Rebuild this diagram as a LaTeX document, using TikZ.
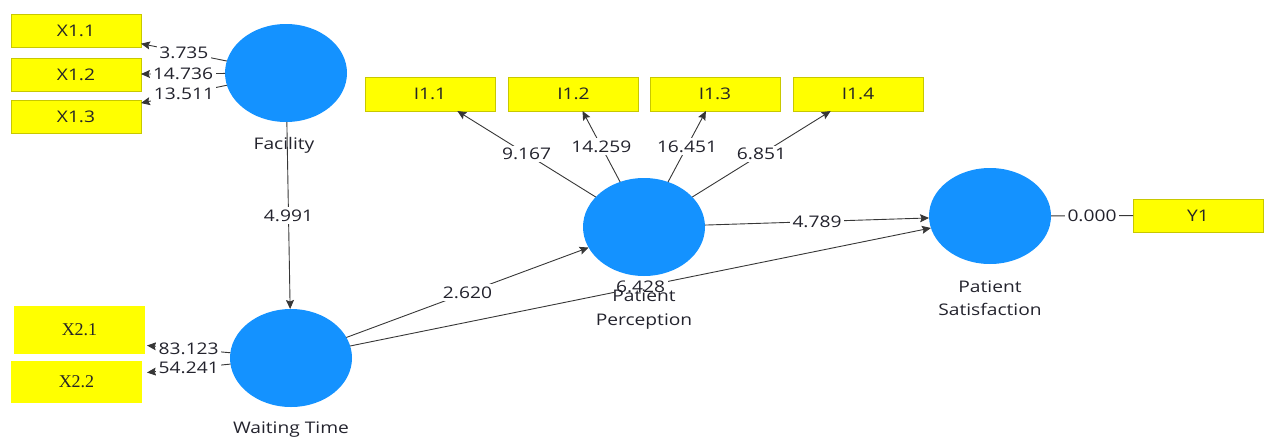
\documentclass[tikz,border=0pt]{standalone}
\usepackage{fontspec}
\setmainfont{Open Sans}[FakeStretch=1.2]
\newfontfamily\boxserif{Liberation Serif}
\usetikzlibrary{shapes.geometric,arrows.meta}

\definecolor{lvblue}{RGB}{20,146,255}
\definecolor{mvfill}{RGB}{255,255,0}
\definecolor{mvedge}{RGB}{200,200,0}
\definecolor{txt}{RGB}{35,35,45}
\definecolor{wire}{RGB}{55,55,55}

\tikzset{
  mv/.style={rectangle, fill=mvfill, draw=mvedge, line width=0.8pt,
    minimum width=130pt, minimum height=33pt, inner sep=0pt, outer sep=0pt,
    font=\fontsize{16}{19}\selectfont, text=black!85},
  mvserif/.style={mv, draw=none, font=\boxserif\fontsize{18}{21}\selectfont},
  lv/.style={ellipse, fill=lvblue, minimum width=122pt, minimum height=98pt,
    inner sep=0pt, outer sep=0pt},
  lvname/.style={font=\fontsize{16}{19}\selectfont, text=txt, align=center, inner sep=0pt},
  lbl/.style={fill=white, inner sep=2.5pt, font=\fontsize{16}{19}\selectfont, text=txt},
  conn/.style={draw=wire, line width=0.9pt, -{Stealth[length=9pt,width=8pt,inset=1.5pt]}},
  plain/.style={draw=wire, line width=0.9pt}
}

\begin{document}
\begin{tikzpicture}[x=1pt,y=-1pt]
\useasboundingbox (0,0) rectangle (1265,439);

% indicator boxes
\node[mv] (X11) at (76,30.5) {X1.1};
\node[mv] (X12) at (76,74.5) {X1.2};
\node[mv] (X13) at (76,116.5) {X1.3};
\node[mvserif, minimum width=131pt, minimum height=48pt] (X21) at (79.5,330) {X2.1};
\node[mvserif, minimum width=131pt, minimum height=42pt] (X22) at (76.5,382) {X2.2};
\node[mv, minimum height=34pt] (I11) at (430,94) {I1.1};
\node[mv, minimum height=34pt] (I12) at (573.5,94) {I1.2};
\node[mv, minimum height=34pt] (I13) at (715,94) {I1.3};
\node[mv, minimum height=34pt] (I14) at (858,94) {I1.4};
\node[mv] (Y1) at (1198,215.5) {Y1};

% latent variables
\node[lv] (Fac) at (286,73) {};
\node[lv] (WT) at (291,358) {};
\node[lv] (PP) at (644,227) {};
\node[lv, minimum height=96pt] (PS) at (990,216) {};

% arrow ends at the waiting-time indicators
\coordinate (t21) at (147,345.5);
\coordinate (t22) at (147,372.5);

% outer loadings
\draw[conn] (Fac) -- node[lbl]{3.735} (X11);
\draw[conn] (Fac) -- node[lbl]{14.736} (X12);
\draw[conn] (Fac) -- node[lbl]{13.511} (X13);
\draw[conn] (WT) -- node[lbl]{83.123} (t21);
\draw[conn] (WT) -- node[lbl]{54.241} (t22);
\draw[conn] (PP) -- node[lbl]{9.167} (I11);
\draw[conn] (PP) -- node[lbl]{14.259} (I12);
\draw[conn] (PP) -- node[lbl]{16.451} (I13);
\draw[conn] (PP) -- node[lbl]{6.851} (I14);
\draw[plain] (PS) -- node[lbl]{0.000} (Y1);

% structural paths
\draw[conn] (Fac) -- node[lbl]{4.991} (WT);
\draw[conn] (WT) -- node[lbl]{2.620} (PP);
\draw[conn] (WT) -- node[lbl]{6.428} (PS);
\draw[conn] (PP) -- node[lbl]{4.789} (PS);

% construct names
\node[lvname] (nFac) at (284,145) {Facility};
\node[lvname] (nWT) at (291,430) {Waiting Time};
\node[lvname, font=\fontsize{16}{24}\selectfont] (nPP) at (644,310) {Patient\\Perception};
\node[lvname, font=\fontsize{16}{23}\selectfont] (nPS) at (990,298.5) {Patient\\Satisfaction};
\end{tikzpicture}
\end{document}
